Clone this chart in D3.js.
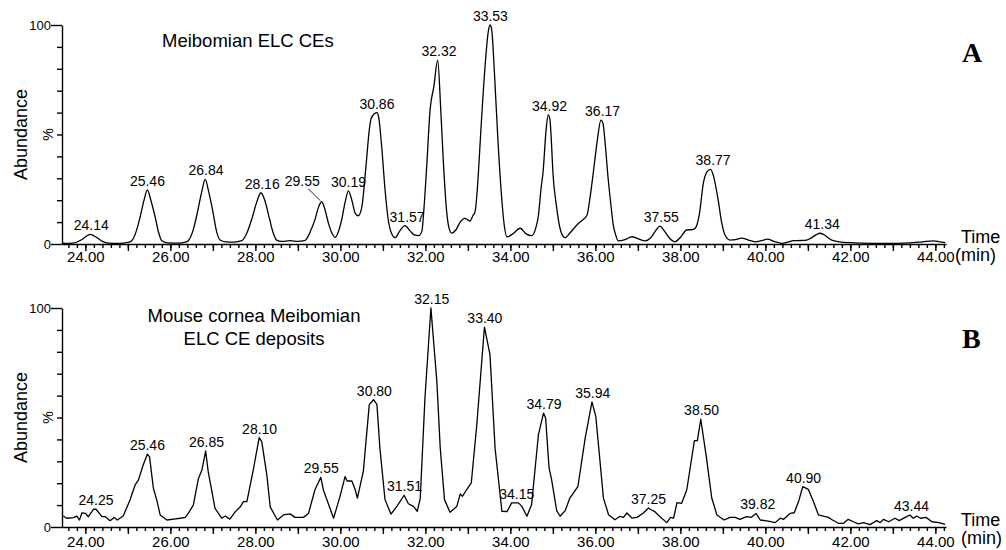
<!DOCTYPE html>
<html>
<head>
<meta charset="utf-8">
<script src="https://cdn.jsdelivr.net/npm/d3@7"></script>
<style>
body { margin: 0; background: #fff; }
</style>
</head>
<body>
<div id="chart"></div>
<script>
// ---- data ----
var timeA = [23.45, 23.7, 23.9, 24.0, 24.11, 24.25, 24.4, 24.55, 24.8, 25.0, 25.09, 25.2, 25.29, 25.38, 25.46, 25.54, 25.64, 25.72, 25.8, 25.95,
  26.2, 26.35, 26.42, 26.53, 26.64, 26.74, 26.82, 26.9, 27.0, 27.09, 27.17, 27.3, 27.5, 27.68, 27.8, 27.92, 28.03, 28.13, 28.22, 28.33,
  28.42, 28.5, 28.62, 28.82, 29.0, 29.15, 29.21, 29.3, 29.4, 29.48, 29.56, 29.64, 29.72, 29.8, 29.88, 29.96, 30.03, 30.11, 30.19, 30.27,
  30.35, 30.42, 30.5, 30.6, 30.68, 30.72, 30.8, 30.86, 30.9, 30.97, 31.05, 31.12, 31.2, 31.29, 31.4, 31.52, 31.64, 31.75, 31.84, 31.92,
  31.95, 32.03, 32.11, 32.2, 32.29, 32.36, 32.43, 32.5, 32.56, 32.62, 32.72, 32.82, 32.93, 33.0, 33.05, 33.12, 33.17, 33.24, 33.3, 33.4,
  33.48, 33.52, 33.56, 33.62, 33.7, 33.78, 33.86, 33.92, 34.05, 34.23, 34.38, 34.5, 34.6, 34.66, 34.72, 34.77, 34.84, 34.89, 34.93, 34.97,
  35.0, 35.08, 35.17, 35.24, 35.29, 35.4, 35.6, 35.7, 35.8, 35.88, 35.96, 36.05, 36.13, 36.18, 36.23, 36.3, 36.37, 36.42, 36.48, 36.54,
  36.7, 36.86, 37.0, 37.17, 37.29, 37.4, 37.52, 37.62, 37.75, 37.87, 38.0, 38.15, 38.28, 38.35, 38.45, 38.54, 38.63, 38.71, 38.78, 38.89,
  38.97, 39.05, 39.17, 39.3, 39.44, 39.6, 39.76, 39.9, 40.05, 40.2, 40.39, 40.55, 40.66, 40.85, 40.97, 41.1, 41.2, 41.29, 41.4, 41.5,
  41.56, 41.75, 41.99, 42.3, 42.7, 43.1, 43.4, 43.7, 43.95, 44.1, 44.23];
var abundA = [0.3, 0.4, 1.8, 3.2, 4.4, 3.2, 1.2, 0.4, 0.3, 0.7, 1.5, 6, 12.5, 20, 24.7, 20, 12.5, 5.5, 1.5, 0.5,
  0.4, 0.8, 1.5, 6, 14.8, 24, 29.5, 24, 14.8, 5.5, 1.8, 1.0, 0.9, 1.5, 5, 11.7, 19, 23.4, 20, 11.7,
  5, 1.8, 1.2, 1.5, 1.2, 1.5, 2.5, 6, 11, 16.5, 19.3, 15.5, 9.4, 5, 3.0, 6, 11, 19, 24.3, 20,
  14, 12.9, 16.4, 35, 52, 57, 59.5, 60, 58, 45, 25, 12, 5, 2.9, 6, 8.4, 6, 4, 3.8, 6,
  12, 35, 61, 72, 84, 62, 35, 15, 7, 5, 6.5, 10, 11.7, 11, 10.5, 13, 14.8, 30, 50, 80,
  97, 100, 98, 80, 50, 25, 8, 3.3, 4.5, 7.2, 4.5, 3.8, 7.5, 13, 25, 33, 52, 59, 57, 45,
  33, 18, 7, 3.5, 2.9, 5, 9.4, 11, 13, 22, 34, 48, 56.6, 55, 46, 30, 17, 8.7, 4, 1.4,
  2, 3.3, 2.5, 1.4, 2.6, 5.5, 8.2, 6, 2.5, 1.0, 3, 6.4, 6.6, 7.2, 14, 27.7, 33, 34.1, 31, 20,
  10, 4.1, 1.8, 2.0, 2.7, 1.8, 1.0, 1.5, 2.2, 1.2, 0.3, 1.0, 1.5, 1.6, 1.8, 3.0, 4.3, 4.9, 4.0, 2.5,
  1.8, 1.0, 0.6, 0.4, 0.3, 0.3, 0.5, 1.0, 1.4, 1.0, 0.6];
var peaksA = ["24.14", "25.46", "26.84", "28.16", "29.55", "30.19", "30.86", "31.57", "32.32", "33.53", "34.92", "36.17", "37.55", "38.77", "41.34"];

var timeB = [23.48, 23.56, 23.72, 23.8, 23.86, 23.92, 24.0, 24.07, 24.19, 24.25, 24.39, 24.47, 24.58, 24.68, 24.75, 24.89, 25.05, 25.17, 25.25, 25.36,
  25.46, 25.51, 25.6, 25.68, 25.76, 25.92, 26.08, 26.23, 26.35, 26.42, 26.54, 26.66, 26.74, 26.83, 26.89, 26.97, 27.05, 27.21, 27.29, 27.4,
  27.52, 27.64, 27.72, 27.8, 27.95, 28.09, 28.15, 28.27, 28.35, 28.52, 28.66, 28.82, 28.93, 29.13, 29.25, 29.4, 29.54, 29.6, 29.84, 29.99,
  30.11, 30.16, 30.27, 30.35, 30.4, 30.54, 30.68, 30.78, 30.86, 30.93, 31.05, 31.19, 31.33, 31.5, 31.6, 31.72, 31.81, 31.88, 31.99, 32.13,
  32.27, 32.35, 32.45, 32.58, 32.74, 32.82, 32.87, 32.97, 33.08, 33.21, 33.39, 33.52, 33.64, 33.8, 33.92, 34.03, 34.19, 34.27, 34.39, 34.5,
  34.66, 34.78, 34.83, 34.91, 34.97, 35.09, 35.17, 35.29, 35.4, 35.59, 35.76, 35.92, 36.01, 36.19, 36.31, 36.46, 36.58, 36.66, 36.74, 36.86,
  36.98, 37.13, 37.25, 37.3, 37.4, 37.52, 37.68, 37.77, 37.84, 37.92, 38.03, 38.15, 38.33, 38.4, 38.48, 38.61, 38.74, 38.86, 39.03, 39.17,
  39.29, 39.4, 39.56, 39.67, 39.78, 39.88, 40.07, 40.23, 40.35, 40.43, 40.58, 40.68, 40.78, 40.88, 41.01, 41.13, 41.25, 41.36, 41.48, 41.58,
  41.72, 41.84, 41.95, 42.07, 42.19, 42.31, 42.46, 42.62, 42.7, 42.78, 42.9, 43.05, 43.15, 43.29, 43.4, 43.48, 43.56, 43.65, 43.78, 43.92,
  44.08, 44.23];
var abundB = [5.0, 4.0, 4.3, 5.0, 3.2, 6.5, 6.2, 4.7, 8.1, 8.1, 4.7, 4.7, 2.9, 4.4, 3.2, 5.0, 12.3, 19.2, 21.5, 28.3,
  33.3, 32, 17.7, 12.3, 5.5, 3.2, 3.6, 4.0, 4.4, 6.2, 10, 22.2, 25.9, 34.7, 25.3, 16.9, 8.5, 4.0, 5.0, 3.6,
  6.8, 9.1, 11.6, 11.6, 26, 40.8, 39, 23.7, 9.1, 3.2, 5.5, 6.0, 4.4, 4.4, 6.2, 16.9, 22.7, 16.9, 4.0, 13.9,
  23, 21, 21, 17, 13.2, 25.4, 55.9, 58.1, 56, 36, 12.5, 5.9, 9.4, 14.5, 10.6, 9.4, 7.2, 13.2, 58.9, 100,
  66.5, 36, 12.5, 6.7, 9.4, 15.1, 14.0, 17, 20.1, 46.7, 91.3, 78.7, 36, 7.2, 7.0, 11, 11, 9.4, 4.9, 10.3,
  42.2, 52, 49.7, 27, 21.6, 7.5, 4.9, 7.5, 13.2, 18.6, 40.6, 57.1, 50.5, 13.2, 5.6, 3.3, 4.9, 4.4, 6.4, 4.1,
  4.4, 6.4, 8.7, 8.0, 7.0, 4.7, 2.0, 4.4, 4.0, 11.1, 10.8, 16.9, 39.4, 39.4, 49.2, 32.1, 13.1, 5.5, 3.2, 4.4,
  4.4, 3.5, 4.7, 4.4, 6.2, 3.2, 2.7, 2.0, 4.0, 3.5, 6.2, 6.5, 11.6, 18.4, 17.2, 11.6, 5.5, 5.0, 4.4, 3.2,
  1.7, 1.7, 3.5, 2.4, 1.4, 2.0, 1.1, 2.9, 2.0, 3.5, 2.4, 4.0, 2.9, 4.4, 5.5, 4.0, 5.0, 4.0, 4.4, 2.4,
  2.0, 1.2];
var peaksB = ["24.25", "25.46", "26.85", "28.10", "29.55", "30.80", "31.51", "32.15", "33.40", "34.15", "34.79", "35.94", "37.25", "38.50", "39.82", "40.90", "43.44"];

var xTickLabels = [24, 26, 28, 30, 32, 34, 36, 38, 40, 42, 44];
var yTickValues = [0, 10, 20, 30, 40, 50, 60, 70, 80, 90, 100];

var sans = "'Liberation Sans', Arial, sans-serif";
var width = 1006, height = 550;

var svg = d3.select("#chart").append("svg")
  .attr("width", width)
  .attr("height", height)
  .style("font-family", sans);

svg.append("rect").attr("width", width).attr("height", height).attr("fill", "#fff");

// shared time scale
var x = d3.scaleLinear().domain([23.45, 44.25]).range([62, 946]);

function drawPanel(p) {
  var y = d3.scaleLinear().domain([0, 100]).range([p.bottom, p.top]);
  var g = svg.append("g");

  // minor time ticks every 0.2 min
  var minor = g.append("g")
    .attr("transform", "translate(0 " + p.bottom + ")")
    .call(d3.axisBottom(x)
      .tickValues(d3.range(118, 222).map(function(i) { return i / 5; }))
      .tickSize(4).tickSizeOuter(0).tickFormat(""));
  minor.select(".domain").remove();

  // major ticks every minute, labels every two
  var major = g.append("g")
    .attr("transform", "translate(0 " + p.bottom + ")")
    .call(d3.axisBottom(x)
      .tickValues(d3.range(24, 45))
      .tickSize(7).tickSizeOuter(0)
      .tickFormat(function(d) { return xTickLabels.indexOf(d) >= 0 ? d3.format(".2f")(d) : ""; }));
  major.selectAll("text")
    .attr("y", p.tickLabelY).attr("dy", null)
    .attr("fill", "#000")
    .style("font-size", "15px")
    .style("font-family", sans);

  // abundance axis
  var yAxis = g.append("g")
    .attr("transform", "translate(62 0)")
    .call(d3.axisLeft(y)
      .tickValues(yTickValues)
      .tickSize(5).tickSizeOuter(0)
      .tickFormat(function(d) { return (d === 0 || d === 100) ? d : ""; }));
  yAxis.selectAll(".tick line")
    .attr("x2", function(d) { return (d === 0 || d === 100) ? -11 : -5; });
  yAxis.selectAll("text")
    .attr("x", -11)
    .attr("fill", "#000")
    .style("font-size", "13px")
    .style("font-family", sans);

  g.selectAll(".domain, .tick line").attr("stroke", "#000").attr("stroke-width", 1.4);

  // trace
  var pts = p.times.map(function(t, i) { return [t, p.abund[i]]; });
  var line = d3.line()
    .x(function(d) { return x(d[0]); })
    .y(function(d) { return y(d[1]); })
    .curve(p.curve);
  g.append("path")
    .datum(pts)
    .attr("fill", "none")
    .attr("stroke", "#000")
    .attr("stroke-width", 1.3)
    .attr("stroke-linejoin", "round")
    .attr("d", line);

  // peak labels
  p.peaks.forEach(function(lbl) {
    var t = +lbl;
    var near = pts.filter(function(d) { return Math.abs(d[0] - t) <= 0.12; });
    var top = d3.max(near, function(d) { return d[1]; });
    var off = p.offsets[lbl] || [0, 0];
    var lx = x(t) + off[0], ly = y(top) - 4 + off[1];
    g.append("text")
      .attr("x", lx).attr("y", ly)
      .attr("text-anchor", "middle")
      .style("font-size", "14px")
      .text(lbl);
    if (off[0] !== 0) {
      g.append("line")
        .attr("x1", lx + 6).attr("y1", ly + 3)
        .attr("x2", x(t) - 1).attr("y2", y(top) - 1)
        .attr("stroke", "#000").attr("stroke-width", 0.9);
    }
  });

  // axis titles
  var mid = (p.top + p.bottom) / 2;
  g.append("text")
    .attr("transform", "translate(27 " + mid + ") rotate(-90)")
    .attr("text-anchor", "middle")
    .style("font-size", "18px")
    .text("Abundance");
  g.append("text")
    .attr("transform", "translate(53 " + (y(50)) + ") rotate(-90)")
    .attr("text-anchor", "middle")
    .style("font-size", "14px")
    .text("%");
  g.append("text")
    .attr("x", 961).attr("y", p.bottom - 1)
    .style("font-size", "18px")
    .text("Time");
  g.append("text")
    .attr("x", p.minX).attr("y", p.bottom + 17)
    .style("font-size", "18px")
    .text("(min)");

  // panel title
  p.title.forEach(function(s, i) {
    g.append("text")
      .attr("x", p.titleX).attr("y", p.titleY + i * 23)
      .attr("text-anchor", p.titleAnchor)
      .style("font-size", "18.5px")
      .text(s);
  });

  // panel letter
  g.append("text")
    .attr("x", 962).attr("y", p.letterY)
    .style("font-family", "'Liberation Serif', 'Times New Roman', serif")
    .style("font-weight", "bold")
    .style("font-size", "28px")
    .text(p.letter);
}

drawPanel({
  times: timeA, abund: abundA, peaks: peaksA, curve: d3.curveMonotoneX,
  top: 25, bottom: 244, tickLabelY: 18,
  offsets: { "29.55": [-19, -12] },
  title: ["Meibomian ELC CEs"], titleX: 162, titleY: 47, titleAnchor: "start",
  letter: "A", letterY: 62, minX: 955
});

drawPanel({
  times: timeB, abund: abundB, peaks: peaksB, curve: d3.curveLinear,
  top: 308, bottom: 527, tickLabelY: 20,
  offsets: {},
  title: ["Mouse cornea Meibomian", "ELC CE deposits"], titleX: 254, titleY: 322, titleAnchor: "middle",
  letter: "B", letterY: 348, minX: 961
});
</script>
</body>
</html>
